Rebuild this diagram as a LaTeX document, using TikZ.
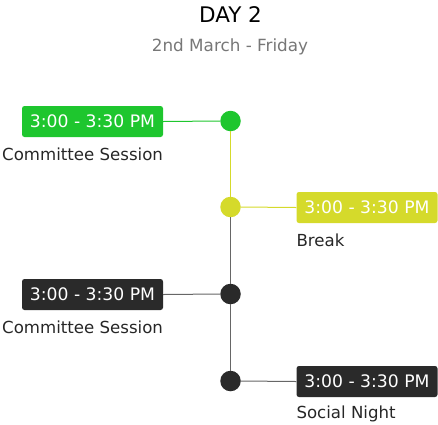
\documentclass[tikz,border=0pt]{standalone}
\usepackage{fontspec}
\setmainfont{DejaVu Sans}
\definecolor{evgreen}{HTML}{1EC62E}
\definecolor{evyellow}{HTML}{D5DA2B}
\definecolor{evdark}{HTML}{2A2A2A}
\definecolor{evline}{HTML}{666666}
\definecolor{subgray}{HTML}{777777}
\tikzset{
  timebox/.style={rounded corners=2.5pt, minimum width=141pt, minimum height=31pt, inner sep=0pt, text=white, font=\fontsize{17.2}{19}\selectfont},
  dotmark/.style={circle, minimum size=20.5pt, inner sep=0pt},
  evlabel/.style={inner sep=0pt, text=black!85, font=\fontsize{16.6}{18}\selectfont},
}
\begin{document}
\begin{tikzpicture}[x=1pt,y=-1pt]
\useasboundingbox (0,0) rectangle (438,424);
\node[inner sep=0pt, font=\fontsize{21.5}{24}\selectfont] (title) at (230.5,15) {DAY 2};
\node[inner sep=0pt, text=subgray, font=\fontsize{16.8}{18}\selectfont] (sub) at (230,47) {2nd March - Friday};

\node[dotmark, fill=evgreen] (d1) at (230.5,121) {};
\node[dotmark, fill=evyellow] (d2) at (230.5,207) {};
\node[dotmark, fill=evdark] (d3) at (230.5,294) {};
\node[dotmark, fill=evdark] (d4) at (230.5,381) {};

\node[timebox, fill=evgreen] (b1) at (92.5,121.5) {3:00 - 3:30 PM};
\node[timebox, fill=evyellow] (b2) at (367,207.5) {3:00 - 3:30 PM};
\node[timebox, fill=evdark] (b3) at (92.5,294.5) {3:00 - 3:30 PM};
\node[timebox, fill=evdark] (b4) at (367,381.5) {3:00 - 3:30 PM};

\node[evlabel, anchor=east] (l1) at (b1.east |- 0,154) {Committee Session};
\node[evlabel, anchor=west] (l2) at (b2.west |- 0,240) {Break};
\node[evlabel, anchor=east] (l3) at (b3.east |- 0,327) {Committee Session};
\node[evlabel, anchor=west] (l4) at (b4.west |- 0,414) {Social Night};

\draw[evgreen, line width=1pt] (b1.east) -- (d1.west);
\draw[evyellow, line width=1pt] (d1.south) -- (d2.north);
\draw[evyellow, line width=1pt] (d2.east) -- (b2.west);
\draw[evline, line width=1pt] (d2.south) -- (d3.north);
\draw[evline, line width=1pt] (b3.east) -- (d3.west);
\draw[evline, line width=1pt] (d3.south) -- (d4.north);
\draw[evline, line width=1pt] (d4.east) -- (b4.west);
\end{tikzpicture}
\end{document}
